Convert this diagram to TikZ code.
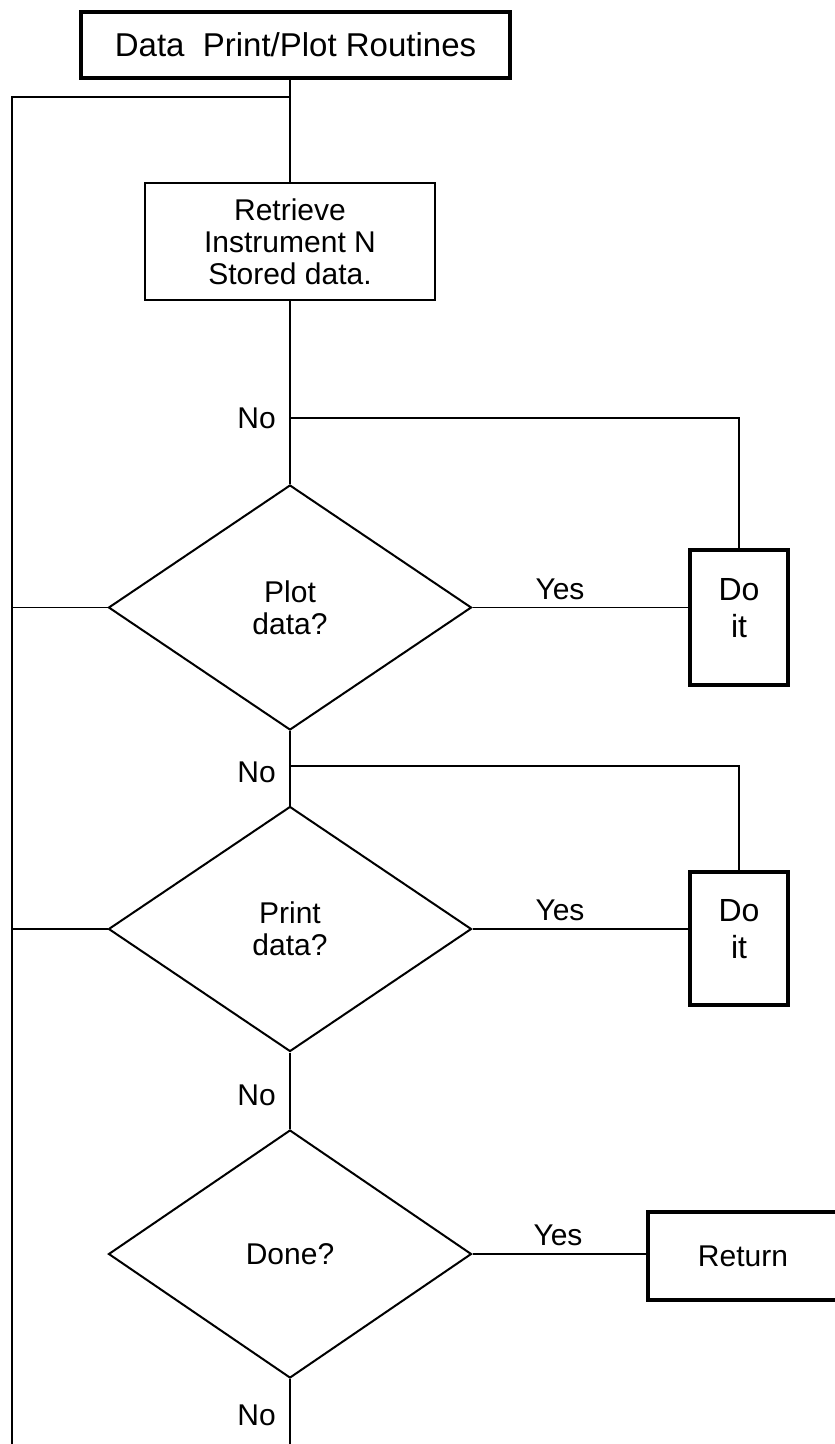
\documentclass[tikz,border=0pt]{standalone}
\usepackage{fontspec}
\setmainfont{Liberation Sans}
\usetikzlibrary{shapes,positioning,calc}

\tikzset{
    txt/.style={font=\fontsize{30}{32}\selectfont, align=center},
    heavybox/.style={draw, line width=3.5pt, rectangle, inner sep=0pt, txt},
    plainbox/.style={draw, line width=1.3pt, rectangle, inner sep=0pt, txt},
    decision/.style={draw, line width=2pt, diamond, inner sep=0pt, minimum width=363pt, minimum height=245pt, txt},
    link/.style={line width=1.2pt},
    lbl/.style={txt, inner sep=0pt}
}

\begin{document}
\begin{tikzpicture}[x=1pt, y=-1pt]
    \useasboundingbox (0,0) rectangle (835,1444);

    % Header and retrieval
    \node [heavybox, minimum width=429pt, minimum height=66pt, font=\fontsize{33}{36}\selectfont] (title) at (295.5,45) {Data\ \ Print/Plot Routines};
    \node [plainbox, minimum width=290pt, minimum height=117pt] (retrieve) at (290,241.5) {Retrieve\\Instrument N\\Stored data.};

    % Decisions
    \node [decision] (plot) at (290,607.5) {Plot\\data?};
    \node [decision] (print) at (290,929) {Print\\data?};
    \node [decision, minimum height=248pt] (done) at (290,1254) {Done?};

    % Actions
    \node [heavybox, minimum width=98pt, minimum height=135pt] (doplot) at (739,617.5) {};
    \node [heavybox, minimum width=98pt, minimum height=133pt] (doprint) at (739,938.5) {};
    \node [lbl, font=\fontsize{32}{37}\selectfont] (doplottext) at ($(doplot)+(0,-9)$) {Do\\it};
    \node [lbl, font=\fontsize{32}{37}\selectfont] (doprinttext) at ($(doprint)+(0,-9)$) {Do\\it};
    \node [heavybox, minimum width=190pt, minimum height=88pt] (ret) at (743,1256) {Return};

    % Loop back and branch points
    \coordinate (looptop) at (12,97);
    \coordinate (loopbot) at (12,1444);
    \coordinate (nplot) at (290,418);
    \coordinate (nprint) at (290,766);
    \coordinate (ndone) at (290,1444);

    \draw [link] (retrieve.north |- title.south) -- (retrieve.north);
    \draw [link] (loopbot) -- (looptop) -- (looptop -| retrieve.north);
    \draw [link] (retrieve.south) -- (plot.north);
    \draw [link] (plot.south) -- (print.north);
    \draw [link] (print.south) -- (done.north);
    \draw [link] (done.south) -- (ndone);

    \draw [link] (nplot) -| (doplot.north);
    \draw [link] (nprint) -| (doprint.north);

    \draw [link] (plot.west) -- (plot.west -| looptop);
    \draw [link] (print.west) -- (print.west -| looptop);

    \draw [link] (plot.east) -- (plot.east -| doplot.west);
    \draw [link] (print.east) -- (print.east -| doprint.west);
    \draw [link] (done.east) -- (done.east -| ret.west);

    % Labels
    \node [lbl, anchor=east] (noplot) at ($(nplot)+(-14,0)$) {No};
    \node [lbl, anchor=east] (noprint) at ($(nprint)+(-14,6)$) {No};
    \node [lbl, anchor=east] (nodone) at (276,1095) {No};
    \node [lbl, anchor=east] (noend) at (276,1415) {No};
    \node [lbl, anchor=south] (yesplot) at (560,600) {Yes};
    \node [lbl, anchor=south] (yesprint) at (560,921) {Yes};
    \node [lbl, anchor=south] (yesdone) at (558,1246) {Yes};
\end{tikzpicture}
\end{document}
